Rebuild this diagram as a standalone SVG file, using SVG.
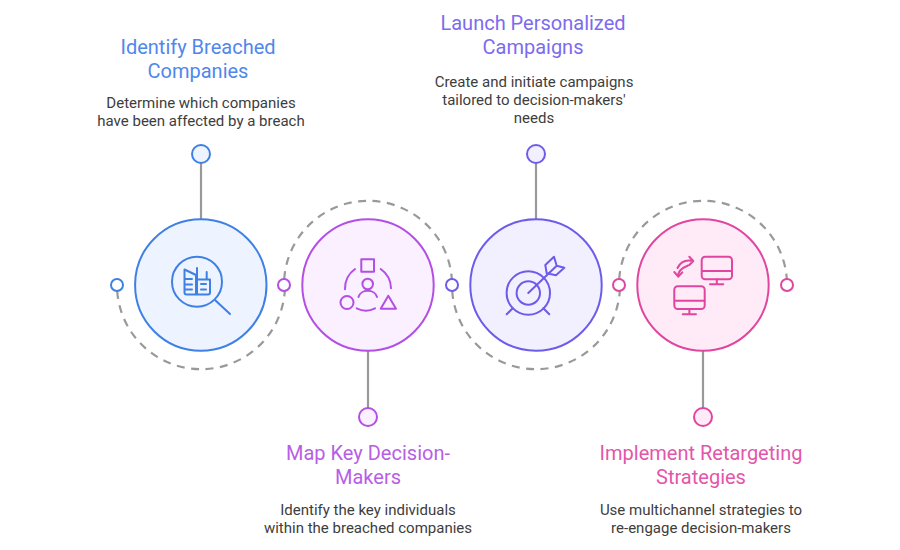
<svg xmlns="http://www.w3.org/2000/svg" width="900" height="550" viewBox="0 0 900 550">
<style>
text{font-family:Roboto,"Liberation Sans",sans-serif;text-anchor:middle}
.t{font-size:20px}
.d{font-size:15px;fill:#3d3d3d}
.line{stroke:#999;stroke-width:2.2;fill:none}
.dash{stroke:#999;stroke-width:2.2;fill:none;stroke-dasharray:8 6.5}
.i{fill:none;stroke-width:2;stroke-linecap:round;stroke-linejoin:round}
.big{stroke-width:2}
.sm{fill:#fff;stroke-width:2}
.b{stroke:#3f80e4}.p{stroke:#b34fe2}.v{stroke:#6c5ce9}.k{stroke:#e0459f}
</style>
<rect width="900" height="550" fill="#fff"/>
<g id="connectors">
<path class="dash" d="M117.2 291A84 84 0 0 0 284.8 291"/>
<path class="dash" d="M284.2 279A84 84 0 0 1 451.8 279"/>
<path class="dash" d="M452.2 291A84 84 0 0 0 619.8 291"/>
<path class="dash" d="M619.2 279A84 84 0 0 1 786.8 279"/>
<path class="line" d="M201 163V219M368 351V408M536 163V219M703 351V408"/>
</g>
<g id="node-identify">
<circle class="big b" cx="200.8" cy="285" r="65.7" fill="#edf3ff"/>
<circle class="sm b" cx="117" cy="285" r="6"/>
<circle class="b" cx="201" cy="154" r="9" fill="#edf3ff" stroke-width="2"/>
<g class="i b">
<circle cx="197" cy="281.7" r="25"/>
<path d="M215 300L230 314M184.5 269.5L196 275V294.5H186.5Q184.5 294.5 184.5 292.5ZM197 268V294.5M197 279.5H210V292.5Q210 294.5 208 294.5H197M206.7 272V279.5M185 279H192M185 284.5H192M185 289.5H192M201 284H206M201 289.5H206"/>
</g>
<text class="t" x="198" y="54" fill="#4f87ed">Identify Breached</text>
<text class="t" x="198" y="78" fill="#4f87ed">Companies</text>
<text class="d" x="201" y="108">Determine which companies</text>
<text class="d" x="201" y="126">have been affected by a breach</text>
</g>
<g id="node-map">
<circle class="big p" cx="368" cy="285" r="65.7" fill="#fbf0ff"/>
<circle class="sm p" cx="284" cy="285" r="6"/>
<circle class="p" cx="368" cy="417" r="9" fill="#fbf0ff" stroke-width="2"/>
<g class="i p">
<rect x="361.3" y="259.3" width="12.7" height="12.4"/>
<circle cx="367.7" cy="284" r="5.3"/>
<path d="M358.5 297A9.5 8 0 0 1 377 297"/>
<circle cx="347" cy="302.5" r="6.5"/>
<path d="M388.3 295.7L380.7 308.7H396ZM355 269A24 24 0 0 0 345 289.3M380.7 269A24 24 0 0 1 391 288.3M356.7 308.3Q366 313 375 308.3"/>
</g>
<text class="t" x="368" y="460" fill="#b85ee6">Map Key Decision-</text>
<text class="t" x="368" y="484" fill="#b85ee6">Makers</text>
<text class="d" x="368" y="515">Identify the key individuals</text>
<text class="d" x="368" y="533">within the breached companies</text>
</g>
<g id="node-launch">
<circle class="big v" cx="536" cy="285" r="65.7" fill="#f2f0ff"/>
<circle class="sm v" cx="452" cy="285" r="6"/>
<circle class="v" cx="536" cy="154" r="9" fill="#f2f0ff" stroke-width="2"/>
<g class="i v">
<circle cx="528.3" cy="293" r="21.7"/>
<circle cx="528.3" cy="293" r="11.7"/>
<path d="M528.3 293L556.7 265.7M554 256.7L556.7 265.7L564.3 267.7L556 275.3L546.7 273.3L545.3 265ZM512.7 308.3L506.7 314.3M543.3 308.3L549.3 314.3"/>
</g>
<text class="t" x="533" y="30" fill="#7c6bef">Launch Personalized</text>
<text class="t" x="533" y="54" fill="#7c6bef">Campaigns</text>
<text class="d" x="534" y="87">Create and initiate campaigns</text>
<text class="d" x="534" y="105">tailored to decision-makers'</text>
<text class="d" x="534" y="123">needs</text>
</g>
<g id="node-implement">
<circle class="big k" cx="703" cy="285" r="65.7" fill="#feebf7"/>
<circle class="sm k" cx="619" cy="285" r="6"/>
<circle class="sm k" cx="787" cy="285" r="6"/>
<circle class="k" cx="703" cy="417" r="9" fill="#feebf7" stroke-width="2"/>
<g class="i k">
<rect x="701.7" y="256.7" width="30.3" height="22.6" rx="3.5"/>
<path d="M702 271H732M716.8 279.3V284M710 284.3H723.3"/>
<rect x="674.3" y="286.3" width="30.4" height="22.7" rx="3.5"/>
<path d="M675 300.7H704.5M689.4 309V314M682.7 314.3H696"/>
<path d="M693.3 261Q682 258.5 677.5 268M689.3 256.7L693.3 261L689.3 265M678.3 276.7Q677 270 688 265.5M674.3 272L678.3 276.7L682.3 272.3"/>
</g>
<text class="t" x="701" y="460" fill="#e455ac">Implement Retargeting</text>
<text class="t" x="701" y="484" fill="#e455ac">Strategies</text>
<text class="d" x="701" y="515">Use multichannel strategies to</text>
<text class="d" x="701" y="533">re-engage decision-makers</text>
</g>
</svg>
